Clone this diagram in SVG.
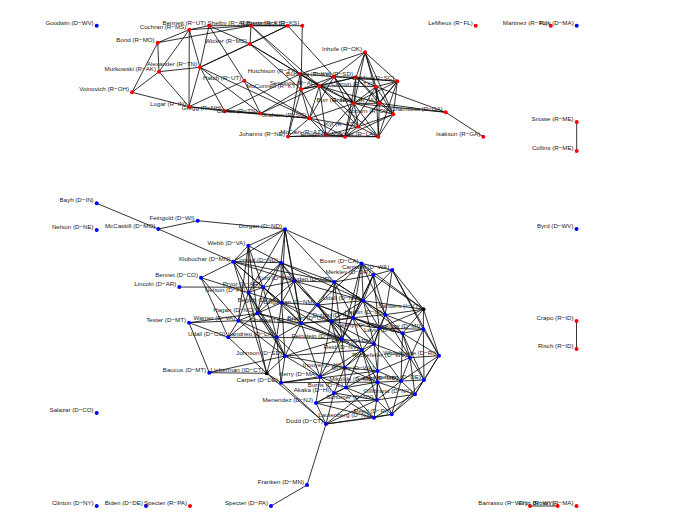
<svg xmlns="http://www.w3.org/2000/svg" width="674" height="531" viewBox="0 0 674 531">
<style>
.e path{stroke:#000;stroke-width:0.8;fill:none}
text{font-family:"Liberation Sans",Arial,sans-serif;font-size:6.2px;text-anchor:end;fill:#1a1a1a}
.r circle{fill:#f00}
.d circle{fill:#00f}
.i circle{fill:#000}
</style>
<rect width="674" height="531" fill="#fff"/>
<g id="connectors" class="e">
<path d="M189.3,29.7L209,25.7M189.3,29.7L251,25.7M189.3,29.7L157.7,42.7M189.3,29.7L159,71.7M189.3,29.7L200,67.3M189.3,29.7L189,106.7M209,25.7L287.7,25.7M209,25.7L200,67.3M209,25.7L244.3,80.7M209,25.7L250,44M251,25.7L302.3,25.7M251,25.7L250,44M251,25.7L300,74M251,25.7L319.3,86M287.7,25.7L250,44M287.7,25.7L334,76.7M287.7,25.7L200,67.3M302.3,25.7L301,89.3M157.7,42.7L251,25.7M157.7,42.7L159,71.7M157.7,42.7L132,92.3M159,71.7L132,92.3M159,71.7L200,67.3M159,71.7L189,106.7M132,92.3L189,106.7M200,67.3L189,106.7M200,67.3L224.7,111.3M200,67.3L260.5,113.5M200,67.3L250,44M200,67.3L309.3,118.3M189,106.7L224.7,111.3M189,106.7L244.3,80.7M189,106.7L260.5,113.5M224.7,111.3L260.5,113.5M224.7,111.3L309.3,118.3M224.7,111.3L300,74M244.3,80.7L309.3,118.3M244.3,80.7L260.5,113.5M250,44L319.3,86M250,44L301,89.3M250,44L300,74M260.5,113.5L309.3,118.3M260.5,113.5L319.3,86M260.5,113.5L301,89.3"/>
<path d="M300,74L334,76.7M300,74L301,89.3M300,74L319.3,86M300,74L365,52.3M300,74L354,103.3M300,74L288,136.5M301,89.3L319.3,86M301,89.3L334,76.7M301,89.3L309.3,118.3M301,89.3L356,77.3M301,89.3L288,136.5M301,89.3L326,135M365,52.3L334,76.7M365,52.3L356,77.3M365,52.3L397.3,81.3M365,52.3L376,86.7M365,52.3L379.3,103.3M365,52.3L393.3,114.3M365,52.3L354,103.3M334,76.7L356,77.3M334,76.7L397.3,81.3M334,76.7L319.3,86M334,76.7L354,103.3M334,76.7L309.3,118.3M334,76.7L378.3,136.7M334,76.7L358.3,126.7M356,77.3L397.3,81.3M356,77.3L376,86.7M356,77.3L354,103.3M356,77.3L379.3,103.3M356,77.3L393.3,114.3M356,77.3L345,136.7M356,77.3L319.3,86M397.3,81.3L376,86.7M397.3,81.3L379.3,103.3M397.3,81.3L393.3,114.3M397.3,81.3L378.3,136.7M397.3,81.3L354,103.3M397.3,81.3L358.3,126.7M319.3,86L376,86.7M319.3,86L354,103.3M319.3,86L309.3,118.3M319.3,86L326,135M319.3,86L378.3,136.7M319.3,86L379.3,103.3M319.3,86L358.3,126.7M376,86.7L379.3,103.3M376,86.7L393.3,114.3M376,86.7L378.3,136.7M376,86.7L445.7,112.3M376,86.7L354,103.3M376,86.7L345,136.7M354,103.3L379.3,103.3M354,103.3L358.3,126.7M354,103.3L309.3,118.3M354,103.3L326,135M354,103.3L345,136.7M354,103.3L393.3,114.3M379.3,103.3L393.3,114.3M379.3,103.3L358.3,126.7M379.3,103.3L378.3,136.7M379.3,103.3L445.7,112.3M393.3,114.3L358.3,126.7M393.3,114.3L378.3,136.7M393.3,114.3L345,136.7M309.3,118.3L288,136.5M309.3,118.3L326,135M309.3,118.3L358.3,126.7M309.3,118.3L345,136.7M358.3,126.7L326,135M358.3,126.7L345,136.7M358.3,126.7L378.3,136.7M288,136.5L326,135M288,136.5L345,136.7M326,135L345,136.7M345,136.7L378.3,136.7M326,135L378.3,136.7M445.7,112.3L483.3,136.7M445.7,112.3L354,103.3"/>
<path d="M576.7,122L576.7,151M576.5,321L576.5,349M530,506L557.6,506M307,485L326,424M307,485L271,506M158.3,229L197.7,220.7M158.3,229L96.7,203.3M197.7,220.7L285,229.3"/>
<path d="M285,229.3L248.3,245.7M285,229.3L233.3,261.7M285,229.3L281,262.7M285,229.3L294.3,281M285,229.3L361.5,263.5M285,229.3L334.3,282M285,229.3L281.7,302.7M285,229.3L301,323.3M285,229.3L248.5,292.7M248.3,245.7L233.3,261.7M248.3,245.7L281,262.7M248.3,245.7L248.5,292.7M248.3,245.7L238.3,320.7M248.3,245.7L257.3,313.3M248.3,245.7L263,287.3M233.3,261.7L281,262.7M233.3,261.7L201,277.7M233.3,261.7L263,287.3M233.3,261.7L248.5,292.7M233.3,261.7L294.3,281M233.3,261.7L334.3,282M233.3,261.7L281.7,302.7M233.3,261.7L266.7,373.3M233.3,261.7L158.3,229M281,262.7L294.3,281M281,262.7L263,287.3M281,262.7L248.5,292.7M281,262.7L281.7,302.7M281,262.7L317.7,305M281,262.7L334.3,282M281,262.7L301,323.3M281,262.7L257.3,313.3M281,262.7L363.3,300.7M361.5,263.5L392.3,270M361.5,263.5L373.3,275M361.5,263.5L334.3,282M361.5,263.5L363.3,300.7M361.5,263.5L317.7,305M361.5,263.5L353,317.7M361.5,263.5L385.2,314.7M361.5,263.5L342,339M361.5,263.5L423.5,309.3M392.3,270L373.3,275M392.3,270L423.5,309.3M392.3,270L385.2,314.7M392.3,270L363.3,300.7M392.3,270L423.3,329.3M392.3,270L439,355.7M373.3,275L334.3,282M373.3,275L363.3,300.7M373.3,275L353,317.7M373.3,275L385.2,314.7M373.3,275L423.5,309.3M373.3,275L379.2,328M373.3,275L342,339"/>
<path d="M294.3,281L334.3,282M294.3,281L263,287.3M294.3,281L281.7,302.7M294.3,281L317.7,305M294.3,281L301,323.3M294.3,281L331,321.3M294.3,281L257.3,313.3M294.3,281L363.3,300.7M334.3,282L317.7,305M334.3,282L363.3,300.7M334.3,282L331,321.3M334.3,282L353,317.7M334.3,282L301,323.3M334.3,282L342,339M334.3,282L385.2,314.7M263,287.3L248.5,292.7M263,287.3L281.7,302.7M263,287.3L257.3,313.3M263,287.3L179.3,287M263,287.3L301,323.3M263,287.3L276.7,337.3M248.5,292.7L281.7,302.7M248.5,292.7L257.3,313.3M248.5,292.7L238.3,320.7M248.5,292.7L276.7,337.3M248.5,292.7L285,356M248.5,292.7L201,277.7M248.5,292.7L266.7,373.3M281.7,302.7L317.7,305M281.7,302.7L301,323.3M281.7,302.7L257.3,313.3M281.7,302.7L331,321.3M281.7,302.7L276.7,337.3M281.7,302.7L342,339M281.7,302.7L285,356M317.7,305L363.3,300.7M317.7,305L301,323.3M317.7,305L331,321.3M317.7,305L353,317.7M317.7,305L342,339M317.7,305L379.2,328M317.7,305L362,350M363.3,300.7L353,317.7M363.3,300.7L385.2,314.7M363.3,300.7L379.2,328M363.3,300.7L423.5,309.3M363.3,300.7L331,321.3M363.3,300.7L374,344M363.3,300.7L402.5,333.3M423.5,309.3L385.2,314.7M423.5,309.3L423.3,329.3M423.5,309.3L439,355.7M423.5,309.3L402.5,333.3M423.5,309.3L379.2,328"/>
<path d="M257.3,313.3L238.3,320.7M257.3,313.3L301,323.3M257.3,313.3L276.7,337.3M257.3,313.3L228.3,337.3M257.3,313.3L189,322.7M257.3,313.3L285,356M257.3,313.3L342,339M238.3,320.7L189,322.7M238.3,320.7L228.3,337.3M238.3,320.7L276.7,337.3M238.3,320.7L301,323.3M238.3,320.7L285,356M238.3,320.7L201,277.7M301,323.3L276.7,337.3M301,323.3L331,321.3M301,323.3L342,339M301,323.3L285,356M301,323.3L320,376.7M301,323.3L353,317.7M301,323.3L362,350M331,321.3L353,317.7M331,321.3L342,339M331,321.3L362,350M331,321.3L379.2,328M331,321.3L320,376.7M331,321.3L344.5,367.5M331,321.3L374,344M353,317.7L385.2,314.7M353,317.7L379.2,328M353,317.7L342,339M353,317.7L374,344M353,317.7L362,350M353,317.7L402.5,333.3M385.2,314.7L379.2,328M385.2,314.7L402.5,333.3M385.2,314.7L423.3,329.3M385.2,314.7L374,344M385.2,314.7L410,357.7M379.2,328L402.5,333.3M379.2,328L423.3,329.3M379.2,328L374,344M379.2,328L362,350M379.2,328L410,357.7M379.2,328L377.5,371M402.5,333.3L423.3,329.3M402.5,333.3L410,357.7M402.5,333.3L439,355.7M402.5,333.3L401,381M402.5,333.3L424,380M423.3,329.3L439,355.7M423.3,329.3L410,357.7M423.3,329.3L424,380"/>
<path d="M276.7,337.3L342,339M276.7,337.3L285,356M276.7,337.3L228.3,337.3M276.7,337.3L266.7,373.3M276.7,337.3L281,382.7M276.7,337.3L320,376.7M342,339L362,350M342,339L374,344M342,339L344.5,367.5M342,339L320,376.7M342,339L285,356M374,344L362,350M374,344L410,357.7M374,344L377.5,371M374,344L344.5,367.5M374,344L401,381M362,350L344.5,367.5M362,350L377.5,371M362,350L377.7,382.2M362,350L320,376.7M362,350L346,387.5M362,350L376.7,400M439,355.7L410,357.7M439,355.7L424,380M439,355.7L415,394.3M439,355.7L401,381M410,357.7L401,381M410,357.7L424,380M410,357.7L377.5,371M410,357.7L415,394.3M285,356L320,376.7M285,356L281,382.7M285,356L344.5,367.5M285,356L266.7,373.3M285,356L362,350M285,356L209.3,372.7M344.5,367.5L377.5,371M344.5,367.5L346,387.5M344.5,367.5L334,393M344.5,367.5L320,376.7M344.5,367.5L377.7,382.2M377.5,371L377.7,382.2M377.5,371L401,381M377.5,371L376.7,400M377.5,371L346,387.5"/>
<path d="M377.7,382.2L401,381M377.7,382.2L376.7,400M377.7,382.2L346,387.5M377.7,382.2L391.7,414.3M377.7,382.2L415,394.3M377.7,382.2L281,382.7M401,381L424,380M401,381L415,394.3M401,381L391.7,414.3M401,381L376.7,400M424,380L415,394.3M424,380L391.7,414.3M346,387.5L334,393M346,387.5L376.7,400M346,387.5L316,403M346,387.5L374,417.7M334,393L316,403M334,393L376.7,400M334,393L374,417.7M334,393L326,424M334,393L320,376.7M415,394.3L391.7,414.3M415,394.3L374,417.7M415,394.3L376.7,400M376.7,400L391.7,414.3M376.7,400L374,417.7M376.7,400L316,403M316,403L326,424M316,403L374,417.7M316,403L320,376.7M391.7,414.3L374,417.7M391.7,414.3L326,424M374,417.7L326,424M320,376.7L281,382.7M320,376.7L346,387.5M266.7,373.3L281,382.7M266.7,373.3L326,424M266.7,373.3L209.3,372.7M266.7,373.3L228.3,337.3M281,382.7L326,424M281,382.7L377.5,371M228.3,337.3L201,277.7M228.3,337.3L189,322.7M189,322.7L209.3,372.7M326,424L377.7,382.2M326,424L376.7,400"/>
</g>
<g id="n-goodwin" class="d"><circle cx="96.7" cy="25.7" r="2"/><text x="93.7" y="24.7">Goodwin (D−WV)</text></g>
<g id="n-cochran" class="r"><circle cx="189.3" cy="29.7" r="2"/><text x="186.3" y="28.7">Cochran (R−MS)</text></g>
<g id="n-bennett" class="r"><circle cx="209" cy="25.7" r="2"/><text x="206" y="24.7">Bennett (R−UT)</text></g>
<g id="n-shelby" class="r"><circle cx="251" cy="25.7" r="2"/><text x="248" y="24.7">Shelby (R−AL)</text></g>
<g id="n-roberts" class="r"><circle cx="287.7" cy="25.7" r="2"/><text x="284.7" y="24.7">Roberts (R−KS)</text></g>
<g id="n-brownback" class="r"><circle cx="302.3" cy="25.7" r="2"/><text x="299.3" y="24.7">Brownback (R−KS)</text></g>
<g id="n-bond" class="r"><circle cx="157.7" cy="42.7" r="2"/><text x="154.7" y="41.7">Bond (R−MO)</text></g>
<g id="n-wicker" class="r"><circle cx="250" cy="44" r="2"/><text x="247" y="43">Wicker (R−MS)</text></g>
<g id="n-alexander" class="r"><circle cx="200" cy="67.3" r="2"/><text x="197" y="66.3">Alexander (R−TN)</text></g>
<g id="n-murkowski" class="r"><circle cx="159" cy="71.7" r="2"/><text x="156" y="70.7">Murkowski (R−AK)</text></g>
<g id="n-voinovich" class="r"><circle cx="132" cy="92.3" r="2"/><text x="129" y="91.3">Voinovich (R−OH)</text></g>
<g id="n-lugar" class="r"><circle cx="189" cy="106.7" r="2"/><text x="186" y="105.7">Lugar (R−IN)</text></g>
<g id="n-gregg" class="r"><circle cx="224.7" cy="111.3" r="2"/><text x="221.7" y="110.3">Gregg (R−NH)</text></g>
<g id="n-hatch" class="r"><circle cx="244.3" cy="80.7" r="2"/><text x="241.3" y="79.7">Hatch (R−UT)</text></g>
<g id="n-corker" class="r"><circle cx="260.5" cy="113.5" r="2"/><text x="257.5" y="112.5">Corker (R−TN)</text></g>
<g id="n-inhofe" class="r"><circle cx="365" cy="52.3" r="2"/><text x="362" y="51.3">Inhofe (R−OK)</text></g>
<g id="n-hutchison" class="r"><circle cx="300" cy="74" r="2"/><text x="297" y="73">Hutchison (R−TX)</text></g>
<g id="n-bunning" class="r"><circle cx="334" cy="76.7" r="2"/><text x="331" y="75.7">Bunning (R−KY)</text></g>
<g id="n-thune" class="r"><circle cx="356" cy="77.3" r="2"/><text x="353" y="76.3">Thune (R−SD)</text></g>
<g id="n-demint" class="r"><circle cx="397.3" cy="81.3" r="2"/><text x="394.3" y="80.3">DeMint (R−SC)</text></g>
<g id="n-mcconnell" class="r"><circle cx="301" cy="89.3" r="2"/><text x="298" y="88.3">McConnell (R−KY)</text></g>
<g id="n-sessions" class="r"><circle cx="319.3" cy="86" r="2"/><text x="316.3" y="85">Sessions (R−AL)</text></g>
<g id="n-cornyn" class="r"><circle cx="376" cy="86.7" r="2"/><text x="373" y="85.7">Cornyn (R−TX)</text></g>
<g id="n-burr" class="r"><circle cx="354" cy="103.3" r="2"/><text x="351" y="102.3">Burr (R−NC)</text></g>
<g id="n-grassley" class="r"><circle cx="379.3" cy="103.3" r="2"/><text x="376.3" y="102.3">Grassley (R−IA)</text></g>
<g id="n-coburn" class="r"><circle cx="393.3" cy="114.3" r="2"/><text x="390.3" y="113.3">Coburn (R−OK)</text></g>
<g id="n-graham" class="r"><circle cx="309.3" cy="118.3" r="2"/><text x="306.3" y="117.3">Graham (R−SC)</text></g>
<g id="n-kyl" class="r"><circle cx="358.3" cy="126.7" r="2"/><text x="355.3" y="125.7">Kyl (R−AZ)</text></g>
<g id="n-johanns" class="r"><circle cx="288" cy="136.5" r="2"/><text x="285" y="135.5">Johanns (R−NE)</text></g>
<g id="n-mccain" class="r"><circle cx="326" cy="135" r="2"/><text x="323" y="134">McCain (R−AZ)</text></g>
<g id="n-ensign" class="r"><circle cx="345" cy="136.7" r="2"/><text x="342" y="135.7">Ensign (R−NV)</text></g>
<g id="n-vitter" class="r"><circle cx="378.3" cy="136.7" r="2"/><text x="375.3" y="135.7">Vitter (R−LA)</text></g>
<g id="n-chambliss" class="r"><circle cx="445.7" cy="112.3" r="2"/><text x="442.7" y="111.3">Chambliss (R−GA)</text></g>
<g id="n-isakson" class="r"><circle cx="483.3" cy="136.7" r="2"/><text x="480.3" y="135.7">Isakson (R−GA)</text></g>
<g id="n-lemieux" class="r"><circle cx="475.7" cy="25.7" r="2"/><text x="472.7" y="24.7">LeMieux (R−FL)</text></g>
<g id="n-martinez" class="r"><circle cx="550.7" cy="25.7" r="2"/><text x="547.7" y="24.7">Martinez (R−FL)</text></g>
<g id="n-kirk" class="d"><circle cx="576.7" cy="25.7" r="2"/><text x="573.7" y="24.7">Kirk (D−MA)</text></g>
<g id="n-snowe" class="r"><circle cx="576.7" cy="122" r="2"/><text x="573.7" y="121">Snowe (R−ME)</text></g>
<g id="n-collins" class="r"><circle cx="576.7" cy="151" r="2"/><text x="573.7" y="150">Collins (R−ME)</text></g>
<g id="n-byrd" class="d"><circle cx="576.5" cy="229" r="2"/><text x="573.5" y="228">Byrd (D−WV)</text></g>
<g id="n-crapo" class="r"><circle cx="576.5" cy="321" r="2"/><text x="573.5" y="320">Crapo (R−ID)</text></g>
<g id="n-risch" class="r"><circle cx="576.5" cy="349" r="2"/><text x="573.5" y="348">Risch (R−ID)</text></g>
<g id="n-bayh" class="d"><circle cx="96.7" cy="203.3" r="2"/><text x="93.7" y="202.3">Bayh (D−IN)</text></g>
<g id="n-nelsonne" class="d"><circle cx="96.7" cy="230" r="2"/><text x="93.7" y="229">Nelson (D−NE)</text></g>
<g id="n-mccaskill" class="d"><circle cx="158.3" cy="229" r="2"/><text x="155.3" y="228">McCaskill (D−MO)</text></g>
<g id="n-feingold" class="d"><circle cx="197.7" cy="220.7" r="2"/><text x="194.7" y="219.7">Feingold (D−WI)</text></g>
<g id="n-dorgan" class="d"><circle cx="285" cy="229.3" r="2"/><text x="282" y="228.3">Dorgan (D−ND)</text></g>
<g id="n-webb" class="d"><circle cx="248.3" cy="245.7" r="2"/><text x="245.3" y="244.7">Webb (D−VA)</text></g>
<g id="n-klobuchar" class="d"><circle cx="233.3" cy="261.7" r="2"/><text x="230.3" y="260.7">Klobuchar (D−MN)</text></g>
<g id="n-conrad" class="d"><circle cx="281" cy="262.7" r="2"/><text x="278" y="261.7">Conrad (D−ND)</text></g>
<g id="n-boxer" class="d"><circle cx="361.5" cy="263.5" r="2"/><text x="358.5" y="262.5">Boxer (D−CA)</text></g>
<g id="n-cantwell" class="d"><circle cx="392.3" cy="270" r="2"/><text x="389.3" y="269">Cantwell (D−WA)</text></g>
<g id="n-merkley" class="d"><circle cx="373.3" cy="275" r="2"/><text x="370.3" y="274">Merkley (D−OR)</text></g>
<g id="n-kohl" class="d"><circle cx="294.3" cy="281" r="2"/><text x="291.3" y="280">Kohl (D−WI)</text></g>
<g id="n-wyden" class="d"><circle cx="334.3" cy="282" r="2"/><text x="331.3" y="281">Wyden (D−OR)</text></g>
<g id="n-pryor" class="d"><circle cx="263" cy="287.3" r="2"/><text x="260" y="286.3">Pryor (D−AR)</text></g>
<g id="n-nelsonfl" class="d"><circle cx="248.5" cy="292.7" r="2"/><text x="245.5" y="291.7">Nelson (D−FL)</text></g>
<g id="n-begich" class="d"><circle cx="281.7" cy="302.7" r="2"/><text x="278.7" y="301.7">Begich (D−AK)</text></g>
<g id="n-bingaman" class="d"><circle cx="317.7" cy="305" r="2"/><text x="314.7" y="304">Bingaman (D−NM)</text></g>
<g id="n-udallnm" class="d"><circle cx="363.3" cy="300.7" r="2"/><text x="360.3" y="299.7">Udall (D−NM)</text></g>
<g id="n-sanders" class="i"><circle cx="423.5" cy="309.3" r="2"/><text x="420.5" y="308.3">Sanders (I−VT)</text></g>
<g id="n-hagan" class="d"><circle cx="257.3" cy="313.3" r="2"/><text x="254.3" y="312.3">Hagan (D−NC)</text></g>
<g id="n-warner" class="d"><circle cx="238.3" cy="320.7" r="2"/><text x="235.3" y="319.7">Warner (D−VA)</text></g>
<g id="n-shaheen" class="d"><circle cx="301" cy="323.3" r="2"/><text x="298" y="322.3">Shaheen (D−NH)</text></g>
<g id="n-brownoh" class="d"><circle cx="331" cy="321.3" r="2"/><text x="328" y="320.3">Brown (D−OH)</text></g>
<g id="n-durbin" class="d"><circle cx="353" cy="317.7" r="2"/><text x="350" y="316.7">Durbin (D−IL)</text></g>
<g id="n-harkin" class="d"><circle cx="385.2" cy="314.7" r="2"/><text x="382.2" y="313.7">Harkin (D−IA)</text></g>
<g id="n-leahy" class="d"><circle cx="379.2" cy="328" r="2"/><text x="376.2" y="327">Leahy (D−VT)</text></g>
<g id="n-levin" class="d"><circle cx="402.5" cy="333.3" r="2"/><text x="399.5" y="332.3">Levin (D−MI)</text></g>
<g id="n-stabenow" class="d"><circle cx="423.3" cy="329.3" r="2"/><text x="420.3" y="328.3">Stabenow (D−MI)</text></g>
<g id="n-landrieu" class="d"><circle cx="276.7" cy="337.3" r="2"/><text x="273.7" y="336.3">Landrieu (D−LA)</text></g>
<g id="n-feinstein" class="d"><circle cx="342" cy="339" r="2"/><text x="339" y="338">Feinstein (D−CA)</text></g>
<g id="n-casey" class="d"><circle cx="374" cy="344" r="2"/><text x="371" y="343">Casey (D−PA)</text></g>
<g id="n-reid" class="d"><circle cx="362" cy="350" r="2"/><text x="359" y="349">Reid (D−NV)</text></g>
<g id="n-whitehouse" class="d"><circle cx="439" cy="355.7" r="2"/><text x="436" y="354.7">Whitehouse (D−RI)</text></g>
<g id="n-rockefeller" class="d"><circle cx="410" cy="357.7" r="2"/><text x="407" y="356.7">Rockefeller (D−WV)</text></g>
<g id="n-udallco" class="d"><circle cx="228.3" cy="337.3" r="2"/><text x="225.3" y="336.3">Udall (D−CO)</text></g>
<g id="n-bennet" class="d"><circle cx="201" cy="277.7" r="2"/><text x="198" y="276.7">Bennet (D−CO)</text></g>
<g id="n-lincoln" class="d"><circle cx="179.3" cy="287" r="2"/><text x="176.3" y="286">Lincoln (D−AR)</text></g>
<g id="n-tester" class="d"><circle cx="189" cy="322.7" r="2"/><text x="186" y="321.7">Tester (D−MT)</text></g>
<g id="n-baucus" class="d"><circle cx="209.3" cy="372.7" r="2"/><text x="206.3" y="371.7">Baucus (D−MT)</text></g>
<g id="n-lieberman" class="i"><circle cx="266.7" cy="373.3" r="2"/><text x="263.7" y="372.3">Lieberman (ID−CT)</text></g>
<g id="n-johnson" class="d"><circle cx="285" cy="356" r="2"/><text x="282" y="355">Johnson (D−SD)</text></g>
<g id="n-carper" class="d"><circle cx="281" cy="382.7" r="2"/><text x="278" y="381.7">Carper (D−DE)</text></g>
<g id="n-kerry" class="d"><circle cx="320" cy="376.7" r="2"/><text x="317" y="375.7">Kerry (D−MA)</text></g>
<g id="n-inouye" class="d"><circle cx="344.5" cy="367.5" r="2"/><text x="341.5" y="366.5">Inouye (D−HI)</text></g>
<g id="n-murray" class="d"><circle cx="377.5" cy="371" r="2"/><text x="374.5" y="370">Murray (D−WA)</text></g>
<g id="n-mikulski" class="d"><circle cx="377.7" cy="382.2" r="2"/><text x="374.7" y="381.2">Mikulski (D−MD)</text></g>
<g id="n-cardin" class="d"><circle cx="401" cy="381" r="2"/><text x="398" y="380">Cardin (D−MD)</text></g>
<g id="n-kaufman" class="d"><circle cx="424" cy="380" r="2"/><text x="421" y="379">Kaufman (D−DE)</text></g>
<g id="n-burris" class="d"><circle cx="346" cy="387.5" r="2"/><text x="343" y="386.5">Burris (D−IL)</text></g>
<g id="n-akaka" class="d"><circle cx="334" cy="393" r="2"/><text x="331" y="392">Akaka (D−HI)</text></g>
<g id="n-gillibrand" class="d"><circle cx="415" cy="394.3" r="2"/><text x="412" y="393.3">Gillibrand (D−NY)</text></g>
<g id="n-schumer" class="d"><circle cx="376.7" cy="400" r="2"/><text x="373.7" y="399">Schumer (D−NY)</text></g>
<g id="n-menendez" class="d"><circle cx="316" cy="403" r="2"/><text x="313" y="402">Menendez (D−NJ)</text></g>
<g id="n-reed" class="d"><circle cx="391.7" cy="414.3" r="2"/><text x="388.7" y="413.3">Reed (D−RI)</text></g>
<g id="n-lautenberg" class="d"><circle cx="374" cy="417.7" r="2"/><text x="371" y="416.7">Lautenberg (D−NJ)</text></g>
<g id="n-dodd" class="d"><circle cx="326" cy="424" r="2"/><text x="323" y="423">Dodd (D−CT)</text></g>
<g id="n-salazar" class="d"><circle cx="96.7" cy="413" r="2"/><text x="93.7" y="412">Salazar (D−CO)</text></g>
<g id="n-franken" class="d"><circle cx="307" cy="485" r="2"/><text x="304" y="484">Franken (D−MN)</text></g>
<g id="n-clinton" class="d"><circle cx="96.7" cy="506" r="2"/><text x="93.7" y="505">Clinton (D−NY)</text></g>
<g id="n-biden" class="d"><circle cx="146" cy="506" r="2"/><text x="143" y="505">Biden (D−DE)</text></g>
<g id="n-specterr" class="r"><circle cx="190" cy="506" r="2"/><text x="187" y="505">Specter (R−PA)</text></g>
<g id="n-specterd" class="d"><circle cx="271" cy="506" r="2"/><text x="268" y="505">Specter (D−PA)</text></g>
<g id="n-barrasso" class="r"><circle cx="530" cy="506" r="2"/><text x="527" y="505">Barrasso (R−WY)</text></g>
<g id="n-enzi" class="r"><circle cx="557.6" cy="506" r="2"/><text x="554.6" y="505">Enzi (R−WY)</text></g>
<g id="n-brownma" class="r"><circle cx="576.5" cy="506" r="2"/><text x="573.5" y="505">Brown (R−MA)</text></g>
</svg>
